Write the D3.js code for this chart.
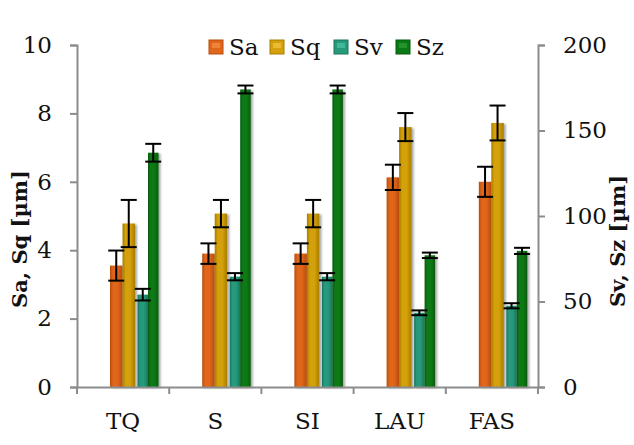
<!DOCTYPE html>
<html>
<head>
<meta charset="utf-8">
<script src="https://cdn.jsdelivr.net/npm/d3@7"></script>
<style>
  body { margin: 0; background: #fff; }
  #chart { width: 634px; height: 445px; }
  text { font-family: "DejaVu Serif", serif; fill: #111; }
</style>
</head>
<body>
<div id="chart"></div>
<script>
// data
const categories = ["TQ", "S", "SI", "LAU", "FAS"];
const saValues = [3.55, 3.9, 3.9, 6.13, 6.0];
const saErrors = [0.44, 0.3, 0.3, 0.37, 0.44];
const sqValues = [4.78, 5.07, 5.07, 7.6, 7.72];
const sqErrors = [0.69, 0.4, 0.4, 0.41, 0.51];
const svValues = [54, 64.5, 64.5, 43.4, 47.5];
const svErrors = [3.4, 2.1, 2.1, 1.4, 1.5];
const szValues = [137, 174, 174, 77, 79.6];
const szErrors = [5.2, 2.3, 2.3, 1.6, 1.8];
const leftTicks = [0, 2, 4, 6, 8, 10];
const rightTicks = [0, 50, 100, 150, 200];

const margin = { top: 45, right: 96, bottom: 58, left: 77 },
    width = 634 - margin.left - margin.right,
    height = 445 - margin.top - margin.bottom;

const svg = d3.select('#chart').append('svg')
    .attr('width', 634).attr('height', 445);

const defs = svg.append('defs');
const filter = defs.append('filter').attr('id', 'shadow')
    .attr('x', '-30%').attr('y', '-5%').attr('width', '170%').attr('height', '115%');
filter.append('feDropShadow').attr('dx', 2).attr('dy', 1)
    .attr('stdDeviation', 1.3).attr('flood-color', '#000').attr('flood-opacity', 0.35);

// series: which axis, where in the band (px of a 92.2 wide band)
const series = [
  { name: 'Sa', values: saValues, errors: saErrors, axis: 'left',  x0: 33,   x1: 45.5, color: '#e0661a', dark: '#b84d0c', light: '#f08a40' },
  { name: 'Sq', values: sqValues, errors: sqErrors, axis: 'left',  x0: 45.5, x1: 58,   color: '#d4a10a', dark: '#a87d00', light: '#ecc23a' },
  { name: 'Sv', values: svValues, errors: svErrors, axis: 'right', x0: 60.5, x1: 71,   color: '#279a7c', dark: '#1a755d', light: '#48c0a0' },
  { name: 'Sz', values: szValues, errors: szErrors, axis: 'right', x0: 71,   x1: 81.5, color: '#0b7a14', dark: '#075a0d', light: '#2a9a32' }
];

series.forEach(function(s, i) {
  const g = defs.append('linearGradient').attr('id', 'grad' + i)
      .attr('x1', '0%').attr('x2', '100%').attr('y1', '0%').attr('y2', '0%');
  g.append('stop').attr('offset', '0%').attr('stop-color', s.dark);
  g.append('stop').attr('offset', '25%').attr('stop-color', s.color);
  g.append('stop').attr('offset', '60%').attr('stop-color', s.color);
  g.append('stop').attr('offset', '100%').attr('stop-color', s.dark);
});

const chart = svg.append('g')
    .attr('transform', 'translate(' + margin.left + ',' + margin.top + ')');

const x = d3.scaleBand().domain(categories).range([0, width]).padding(0);
const yLeft = d3.scaleLinear().domain([0, 10]).range([height, 0]);
const yRight = d3.scaleLinear().domain([0, 200]).range([height, 0]);
const bandScale = x.bandwidth() / 92.2;

// bars
series.forEach(function(s, i) {
  const y = s.axis === 'left' ? yLeft : yRight;
  const grp = chart.append('g');
  grp.selectAll('rect')
      .data(s.values)
      .enter()
      .append('rect')
      .attr('x', (d, j) => x(categories[j]) + s.x0 * bandScale)
      .attr('width', (s.x1 - s.x0) * bandScale)
      .attr('y', d => y(d))
      .attr('height', d => height - y(d))
      .attr('fill', 'url(#grad' + i + ')')
      .attr('filter', 'url(#shadow)');
});

// error bars
series.forEach(function(s) {
  const y = s.axis === 'left' ? yLeft : yRight;
  const grp = chart.append('g').attr('stroke', '#000').attr('stroke-width', 2);
  s.values.forEach(function(v, j) {
    const cx = x(categories[j]) + (s.x0 + s.x1) / 2 * bandScale;
    const top = y(v + s.errors[j]), bot = y(v - s.errors[j]);
    grp.append('line').attr('x1', cx).attr('x2', cx).attr('y1', top).attr('y2', bot);
    grp.append('line').attr('x1', cx - 8).attr('x2', cx + 8).attr('y1', top).attr('y2', top);
    grp.append('line').attr('x1', cx - 8).attr('x2', cx + 8).attr('y1', bot).attr('y2', bot);
  });
});

// axes
function styleAxis(g) {
  g.selectAll('path').attr('stroke', '#8c8c8c').attr('stroke-width', 2);
  g.selectAll('line').attr('stroke', '#8c8c8c').attr('stroke-width', 2);
  g.selectAll('text').style('font-size', '23px').attr('fill', '#111');
}

chart.append('g')
    .call(d3.axisLeft(yLeft).tickValues(leftTicks).tickSize(7).tickPadding(18).tickSizeOuter(7))
    .call(styleAxis);

chart.append('g')
    .attr('transform', 'translate(' + width + ',0)')
    .call(d3.axisRight(yRight).tickValues(rightTicks).tickSize(7).tickPadding(18).tickSizeOuter(7))
    .call(styleAxis);

const xAxis = chart.append('g')
    .attr('transform', 'translate(0,' + height + ')')
    .call(d3.axisBottom(x).tickSize(0).tickPadding(26))
    .call(styleAxis);
// category boundary ticks
xAxis.selectAll('.bound')
    .data(d3.range(categories.length + 1))
    .enter()
    .append('line')
    .attr('x1', d => d * x.bandwidth()).attr('x2', d => d * x.bandwidth())
    .attr('y1', 0).attr('y2', 7)
    .attr('stroke', '#8c8c8c').attr('stroke-width', 2);

// axis titles
svg.append('text')
    .attr('transform', 'translate(27,239) rotate(-90)')
    .attr('text-anchor', 'middle')
    .style('font-size', '21px').style('font-weight', 'bold')
    .text('Sa, Sq [µm]');
svg.append('text')
    .attr('transform', 'translate(625,241) rotate(-90)')
    .attr('text-anchor', 'middle')
    .style('font-size', '21px').style('font-weight', 'bold')
    .text('Sv, Sz [µm]');

// legend
const legendX = [209, 270, 334, 396];
const legend = svg.append('g');
series.forEach(function(s, i) {
  const item = legend.append('g').attr('transform', 'translate(' + legendX[i] + ',40)');
  item.append('rect').attr('width', 14).attr('height', 14)
      .attr('fill', s.color).attr('stroke', s.dark).attr('stroke-width', 1);
  item.append('rect').attr('x', 3).attr('y', 3).attr('width', 8).attr('height', 5)
      .attr('fill', s.light).attr('opacity', 0.8);
  item.append('text').attr('x', 20).attr('y', 15)
      .style('font-size', '23px').text(s.name);
});
</script>
</body>
</html>
